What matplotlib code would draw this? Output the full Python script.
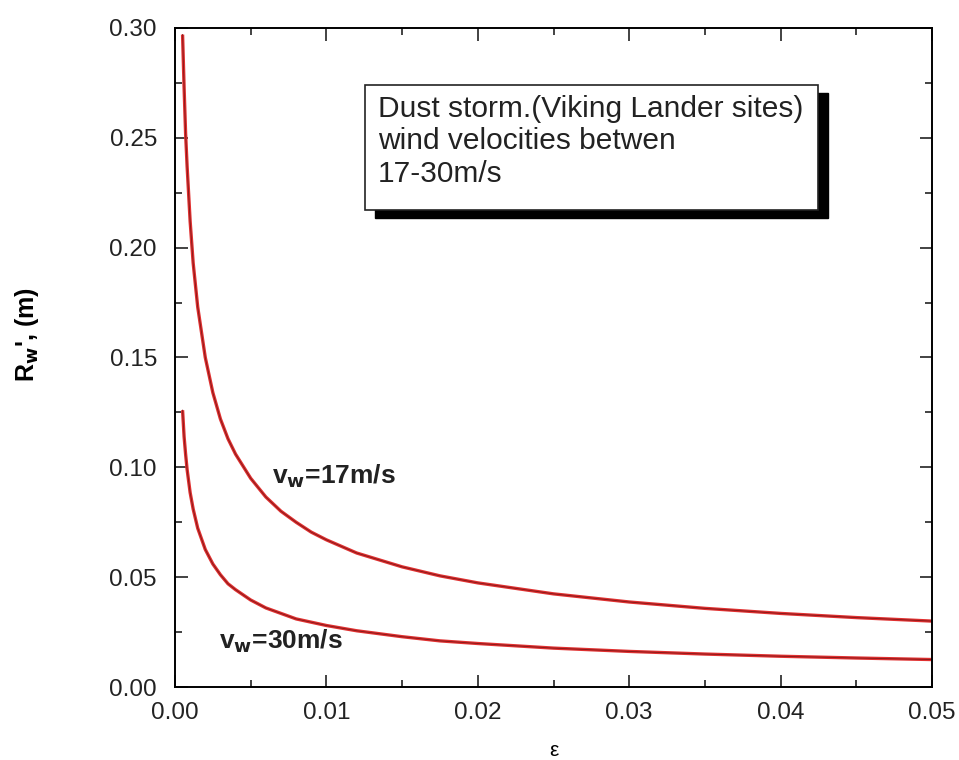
import matplotlib.pyplot as plt
from matplotlib.patches import Rectangle

# values
eps = [0.0005, 0.0006, 0.0007, 0.0008, 0.001, 0.0012, 0.0015, 0.002, 0.0025,
       0.003, 0.0035, 0.004, 0.005, 0.006, 0.007, 0.008, 0.009, 0.01, 0.012,
       0.015, 0.0175, 0.02, 0.025, 0.03, 0.035, 0.04, 0.045, 0.05]
r_17 = [0.297, 0.273, 0.252, 0.237, 0.212, 0.193, 0.173, 0.150, 0.134,
        0.122, 0.113, 0.106, 0.095, 0.0865, 0.080, 0.075, 0.0705, 0.067, 0.061,
        0.0547, 0.0506, 0.0474, 0.0424, 0.0387, 0.0358, 0.0335, 0.0316, 0.030]
r_30 = [0.126, 0.114, 0.106, 0.099, 0.0885, 0.081, 0.0723, 0.0626, 0.056,
        0.0511, 0.047, 0.0443, 0.0396, 0.036, 0.0335, 0.031, 0.0295, 0.028, 0.0256,
        0.0229, 0.021, 0.0198, 0.0177, 0.0162, 0.015, 0.014, 0.0132, 0.0125]

xticks = [0.00, 0.01, 0.02, 0.03, 0.04, 0.05]
yticks = [0.00, 0.05, 0.10, 0.15, 0.20, 0.25, 0.30]

plt.rcParams['font.family'] = ['Liberation Sans', 'DejaVu Sans']

fig = plt.figure(figsize=(9.59, 7.6), dpi=100)
ax = fig.add_axes([175 / 959, 1 - 687 / 760, (932 - 175) / 959, (687 - 28) / 760])

for r in (r_17, r_30):
    ax.plot(eps, r, color='#e03030', lw=2.4, solid_capstyle='butt')
    ax.plot(eps, r, color='#8a1a1a', lw=0.7)

ax.set_xlim(0, 0.05)
ax.set_ylim(0, 0.30)
ax.set_xticks(xticks)
ax.set_xticklabels([f'{v:.2f}' for v in xticks])
ax.set_yticks(yticks)
ax.set_yticklabels([f'{v:.2f}' for v in yticks])
ax.set_xticks([0.005, 0.015, 0.025, 0.035, 0.045], minor=True)
ax.set_yticks([0.025, 0.075, 0.125, 0.175, 0.225, 0.275], minor=True)
ax.tick_params(which='both', direction='in', top=True, right=True,
               width=1.2, labelsize=17.5, colors='#222222')
ax.tick_params(axis='y', pad=13)
ax.tick_params(axis='x', pad=11)
ax.tick_params(which='major', length=9)
ax.tick_params(which='minor', length=5)
for s in ax.spines.values():
    s.set_linewidth(1.4)

ax.set_xlabel('ε', fontsize=15, labelpad=12)
ax.set_ylabel("R$_{\\mathbf{w}}$', (m)", fontsize=18, fontweight='bold')
ax.yaxis.set_label_coords(-0.177, 0.535)

ax.text(0.0064, 0.0925, 'v$_{\\mathbf{w}}$=17m/s', fontsize=19, fontweight='bold', color='#222222')
ax.text(0.0029, 0.0175, 'v$_{\\mathbf{w}}$=30m/s', fontsize=19, fontweight='bold', color='#222222')

# text box with drop shadow
bx0, by0, bw, bh = 365, 85, 453, 125
shadow = Rectangle(((bx0 + 10) / 959, 1 - (by0 + bh + 8) / 760), bw / 959, bh / 760,
                   transform=fig.transFigure, facecolor='black', edgecolor='black', zorder=4)
box = Rectangle((bx0 / 959, 1 - (by0 + bh) / 760), bw / 959, bh / 760,
                transform=fig.transFigure, facecolor='white', edgecolor='#222222',
                lw=1.2, zorder=5)
fig.patches.extend([shadow, box])
fig.text((bx0 + 13) / 959, 1 - (by0 + 10) / 760,
         'Dust storm.(Viking Lander sites)\nwind velocities betwen\n17-30m/s',
         fontsize=21.5, va='top', ha='left', color='#222222', linespacing=1.2, zorder=6)

fig.savefig('out.png', dpi=100)
